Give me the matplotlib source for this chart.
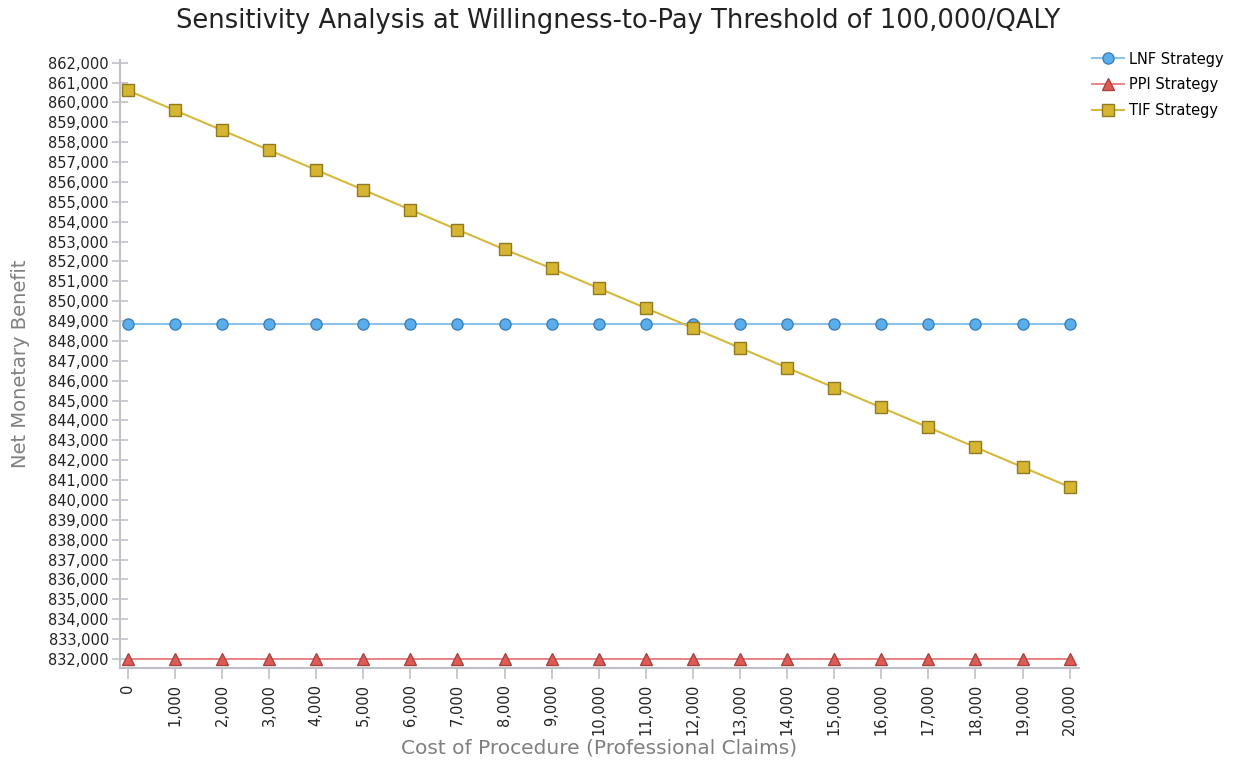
import matplotlib
matplotlib.use("Agg")
import matplotlib.pyplot as plt
from matplotlib.ticker import FuncFormatter, MultipleLocator

cost = [0, 1000, 2000, 3000, 4000, 5000, 6000, 7000, 8000, 9000, 10000,
        11000, 12000, 13000, 14000, 15000, 16000, 17000, 18000, 19000, 20000]
lnf = [848870] * 21
ppi = [832000] * 21
tif = [860600, 859600, 858600, 857600, 856600, 855600, 854600, 853600, 852600,
       851650, 850650, 849650, 848650, 847650, 846650, 845650, 844650, 843650,
       842650, 841650, 840650]

plt.rcParams["font.family"] = ["DejaVu Sans"]

fig = plt.figure(figsize=(12.36, 7.65), dpi=100)
ax = fig.add_axes([0.097, 0.127, 0.776, 0.795])

ax.plot(cost, lnf, color="#8cc4ee", lw=1.5, marker="o", ms=8,
        mfc="#5aaeeb", mec="#3f80b8", mew=1.0, label="LNF Strategy", zorder=3)
ax.plot(cost, ppi, color="#e57a7a", lw=1.3, marker="^", ms=9,
        mfc="#e05a55", mec="#a84440", mew=1.0, label="PPI Strategy", zorder=3)
ax.plot(cost, tif, color="#d6b93c", lw=1.5, marker="s", ms=9,
        mfc="#d6b533", mec="#8f7a22", mew=1.0, label="TIF Strategy", zorder=4)

ax.set_xlim(-170, 20200)
ax.set_ylim(831550, 862150)
ax.xaxis.set_major_locator(MultipleLocator(1000))
ax.yaxis.set_major_locator(MultipleLocator(1000))
fmt = FuncFormatter(lambda v, p: f"{int(round(v)):,}")
ax.xaxis.set_major_formatter(fmt)
ax.yaxis.set_major_formatter(fmt)

for s in ["top", "right"]:
    ax.spines[s].set_visible(False)
for s in ["left", "bottom"]:
    ax.spines[s].set_color("#c0c0c8")
    ax.spines[s].set_linewidth(1.5)

ax.tick_params(axis="y", direction="inout", length=12, width=1.2, color="#c0c0c8",
               labelsize=10.5, labelcolor="#222222", pad=2)
ax.tick_params(axis="x", direction="out", length=8, width=1.2, color="#c0c0c8",
               labelsize=10.5, labelcolor="#222222", rotation=90)

ax.set_xlabel("Cost of Procedure (Professional Claims)", fontsize=14.5, color="#808080",
              labelpad=2)
ax.set_ylabel("Net Monetary Benefit", fontsize=14, color="#808080")
ax.yaxis.set_label_coords(-0.094, 0.5)
fig.suptitle("Sensitivity Analysis at Willingness-to-Pay Threshold of 100,000/QALY",
             fontsize=18.5, color="#222222", y=0.99)

ax.legend(loc="upper left", bbox_to_anchor=(1.0, 1.035), frameon=False,
          fontsize=10.5, handlelength=2.2, handletextpad=0.3, labelspacing=0.75)

fig.savefig("out.png", dpi=100)
